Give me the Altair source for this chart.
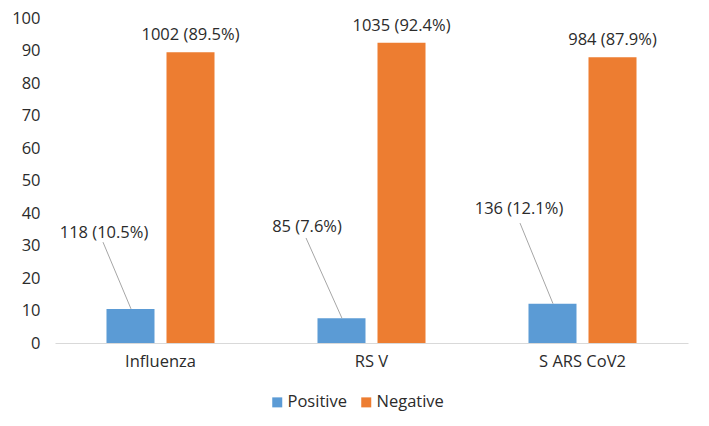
import altair as alt
import pandas as pd

# ---- data ----
categories = ["Influenza", "RS V", "S ARS CoV2"]
series = ["Positive", "Negative"]
positive_pct = [10.5, 7.6, 12.1]
negative_pct = [89.5, 92.4, 87.9]
positive_n = [118, 85, 136]
negative_n = [1002, 1035, 984]
colors = ["#5B9BD5", "#ED7D31"]
y_ticks = [0, 10, 20, 30, 40, 50, 60, 70, 80, 90, 100]

# ---- annotation layout (callout labels for the Positive bars) ----
pos_label_y = [33.8, 35.7, 41.2]      # label centre, in axis units
pos_label_dx = [49, 41, 42]           # px from category band start
leader_end_dx = [48, 40, 43]          # px from band start, label end of leader
leader_end_dy = [9, 11, 14]           # px below label centre
BAR_CENTER_DX = 76                    # px from band start to Positive bar centre

FONT = "Open Sans"
FS = 16.5
TXT = "#2b2b2b"

rows = []
for i, c in enumerate(categories):
    rows.append(dict(cat=c, series="Positive", value=positive_pct[i], n=positive_n[i], ly=pos_label_y[i]))
    rows.append(dict(cat=c, series="Negative", value=negative_pct[i], n=negative_n[i], ly=None))
df = pd.DataFrame(rows)
df["label"] = df["n"].astype(str) + " (" + df["value"].map(lambda v: f"{v:.1f}") + "%)"

x_axis = alt.Axis(title=None, labelAngle=0, ticks=False, domainColor="#d9d9d9", domainWidth=1,
                  labelFontSize=FS, labelFont=FONT, labelColor=TXT, labelPadding=10, grid=False)
x_enc = alt.X("cat:N", sort=categories, scale=alt.Scale(paddingInner=0, paddingOuter=0), axis=x_axis)
x_start = alt.X("cat:N", sort=categories, bandPosition=0, axis=x_axis)
xoff = alt.XOffset("series:N", sort=series, scale=alt.Scale(paddingInner=0.2, paddingOuter=0.858))


def y_axis():
    return alt.Axis(title=None, values=y_ticks, domain=False, ticks=False, grid=False,
                    labelOverlap=False, labelFontSize=FS, labelFont=FONT, labelColor=TXT,
                    labelPadding=15)


y_scale = alt.Scale(domain=[0, 100], nice=False)
y_val = alt.Y("value:Q", scale=y_scale, axis=y_axis())
y_lab = alt.Y("ly:Q", scale=y_scale, axis=y_axis())

base = alt.Chart(df)

bars = base.mark_bar().encode(
    x=x_enc, xOffset=xoff, y=y_val,
    color=alt.Color("series:N", sort=series, scale=alt.Scale(domain=series, range=colors),
                    legend=alt.Legend(title=None, orient="none", legendX=214, legendY=376,
                                      direction="horizontal", symbolType="square", symbolSize=100,
                                      symbolStrokeWidth=0, labelFontSize=FS, labelFont=FONT,
                                      labelColor=TXT, columnPadding=11, labelOffset=2)),
)

neg_labels = base.transform_filter(alt.datum.series == "Negative").mark_text(
    dy=-17, fontSize=FS, font=FONT, color=TXT, baseline="middle"
).encode(x=x_enc, xOffset=xoff, y=y_val, text="label:N")

layers = [bars, neg_labels]
for i, c in enumerate(categories):
    sub = base.transform_filter((alt.datum.series == "Positive") & (alt.datum.cat == c))
    layers.append(sub.mark_rule(color="#a6a6a6", strokeWidth=1, xOffset=BAR_CENTER_DX,
                                x2Offset=leader_end_dx[i], y2Offset=leader_end_dy[i]).encode(
        x=x_start, x2=alt.X2("cat:N", bandPosition=0), y=y_val, y2="ly:Q"))
    layers.append(sub.mark_text(dx=pos_label_dx[i], fontSize=FS, font=FONT, color=TXT,
                                baseline="middle", align="center").encode(
        x=x_start, y=y_lab, text="label:N"))

chart = alt.layer(*layers).properties(
    width=633, height=325,
    autosize=alt.AutoSizeParams(type="none"),
    padding={"left": 47, "top": 10, "right": 13, "bottom": 75},
).configure_view(stroke=None)

chart.save("out.html", embed_options={"renderer": "svg", "actions": False})
